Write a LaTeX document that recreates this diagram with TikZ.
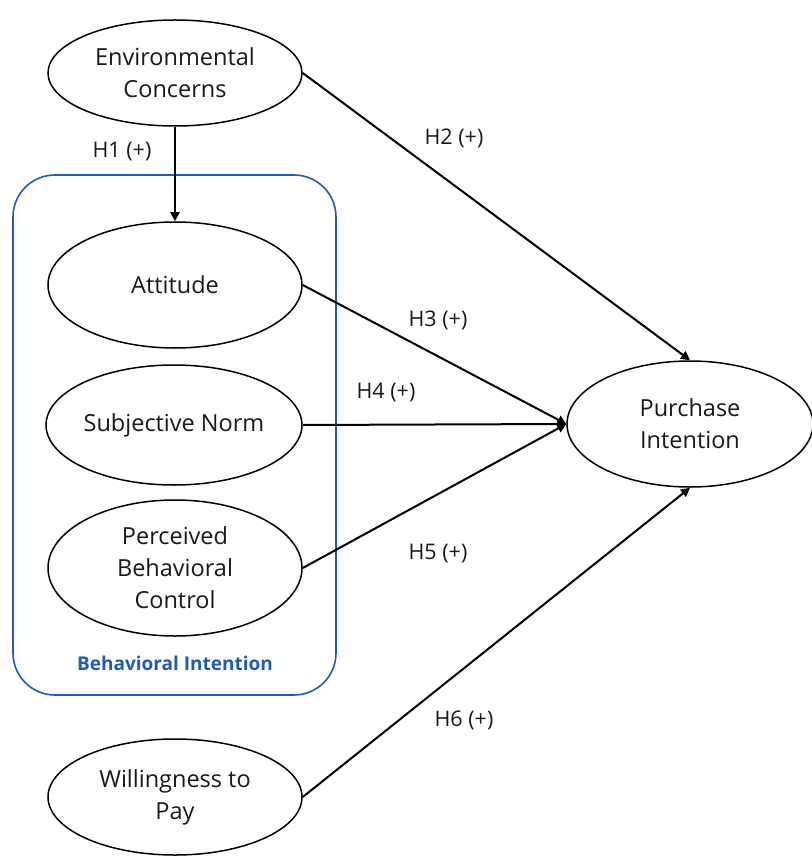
\documentclass[tikz,border=0pt]{standalone}
\usepackage{fontspec}
\setmainfont{Open Sans}
\usetikzlibrary{shapes.geometric,arrows.meta}
\definecolor{boxblue}{HTML}{1F5BB5}
\begin{document}
\begin{tikzpicture}[x=1pt,y=-1pt,
  construct/.style={draw=black, line width=1.5pt, ellipse, inner sep=0pt, align=center,
     font=\fontsize{23.5}{32}\selectfont, text=black!90},
  path/.style={draw=black, line width=2pt, -{Triangle[length=9pt,width=9pt]}},
  hlabel/.style={font=\fontsize{21.5}{24}\selectfont, text=black!90, inner sep=0pt}]
\useasboundingbox (0,0) rectangle (811,858);
\draw[boxblue, line width=1.6pt, rounded corners=42pt] (13,175) rectangle (336,695);
\node[font=\bfseries\fontsize{19}{22}\selectfont, text=boxblue] (bi) at (175,663) {Behavioral Intention};
\node[construct, minimum width=254pt, minimum height=106pt] (ec) at (175,73) {Environmental\\Concerns};
\node[construct, minimum width=254pt, minimum height=126pt] (att) at (175,285) {Attitude};
\node[construct, minimum width=256pt, minimum height=120pt] (sn) at (174,425) {Subjective Norm};
\node[construct, minimum width=254pt, minimum height=136pt] (pbc) at (175,568) {Perceived\\Behavioral\\Control};
\node[construct, minimum width=254pt, minimum height=116pt] (wtp) at (175,797) {Willingness to\\Pay};
\node[construct, minimum width=246pt, minimum height=126pt] (pi) at (690,424) {Purchase\\Intention};
\draw[path] (ec.south) -- (att.north);
\draw[path] (ec.east) -- (pi.north);
\draw[path] (att.east) -- (pi.west);
\draw[path] (sn.east) -- (pi.west);
\draw[path] (pbc.east) -- (pi.west);
\draw[path] (wtp.east) -- (pi.south);
\node[hlabel] (h1) at (122,152) {H1 (+)};
\node[hlabel] (h2) at (454,138) {H2 (+)};
\node[hlabel] (h3) at (438,320) {H3 (+)};
\node[hlabel] (h4) at (386,392) {H4 (+)};
\node[hlabel] (h5) at (438,554) {H5 (+)};
\node[hlabel] (h6) at (464,720) {H6 (+)};
\end{tikzpicture}
\end{document}
